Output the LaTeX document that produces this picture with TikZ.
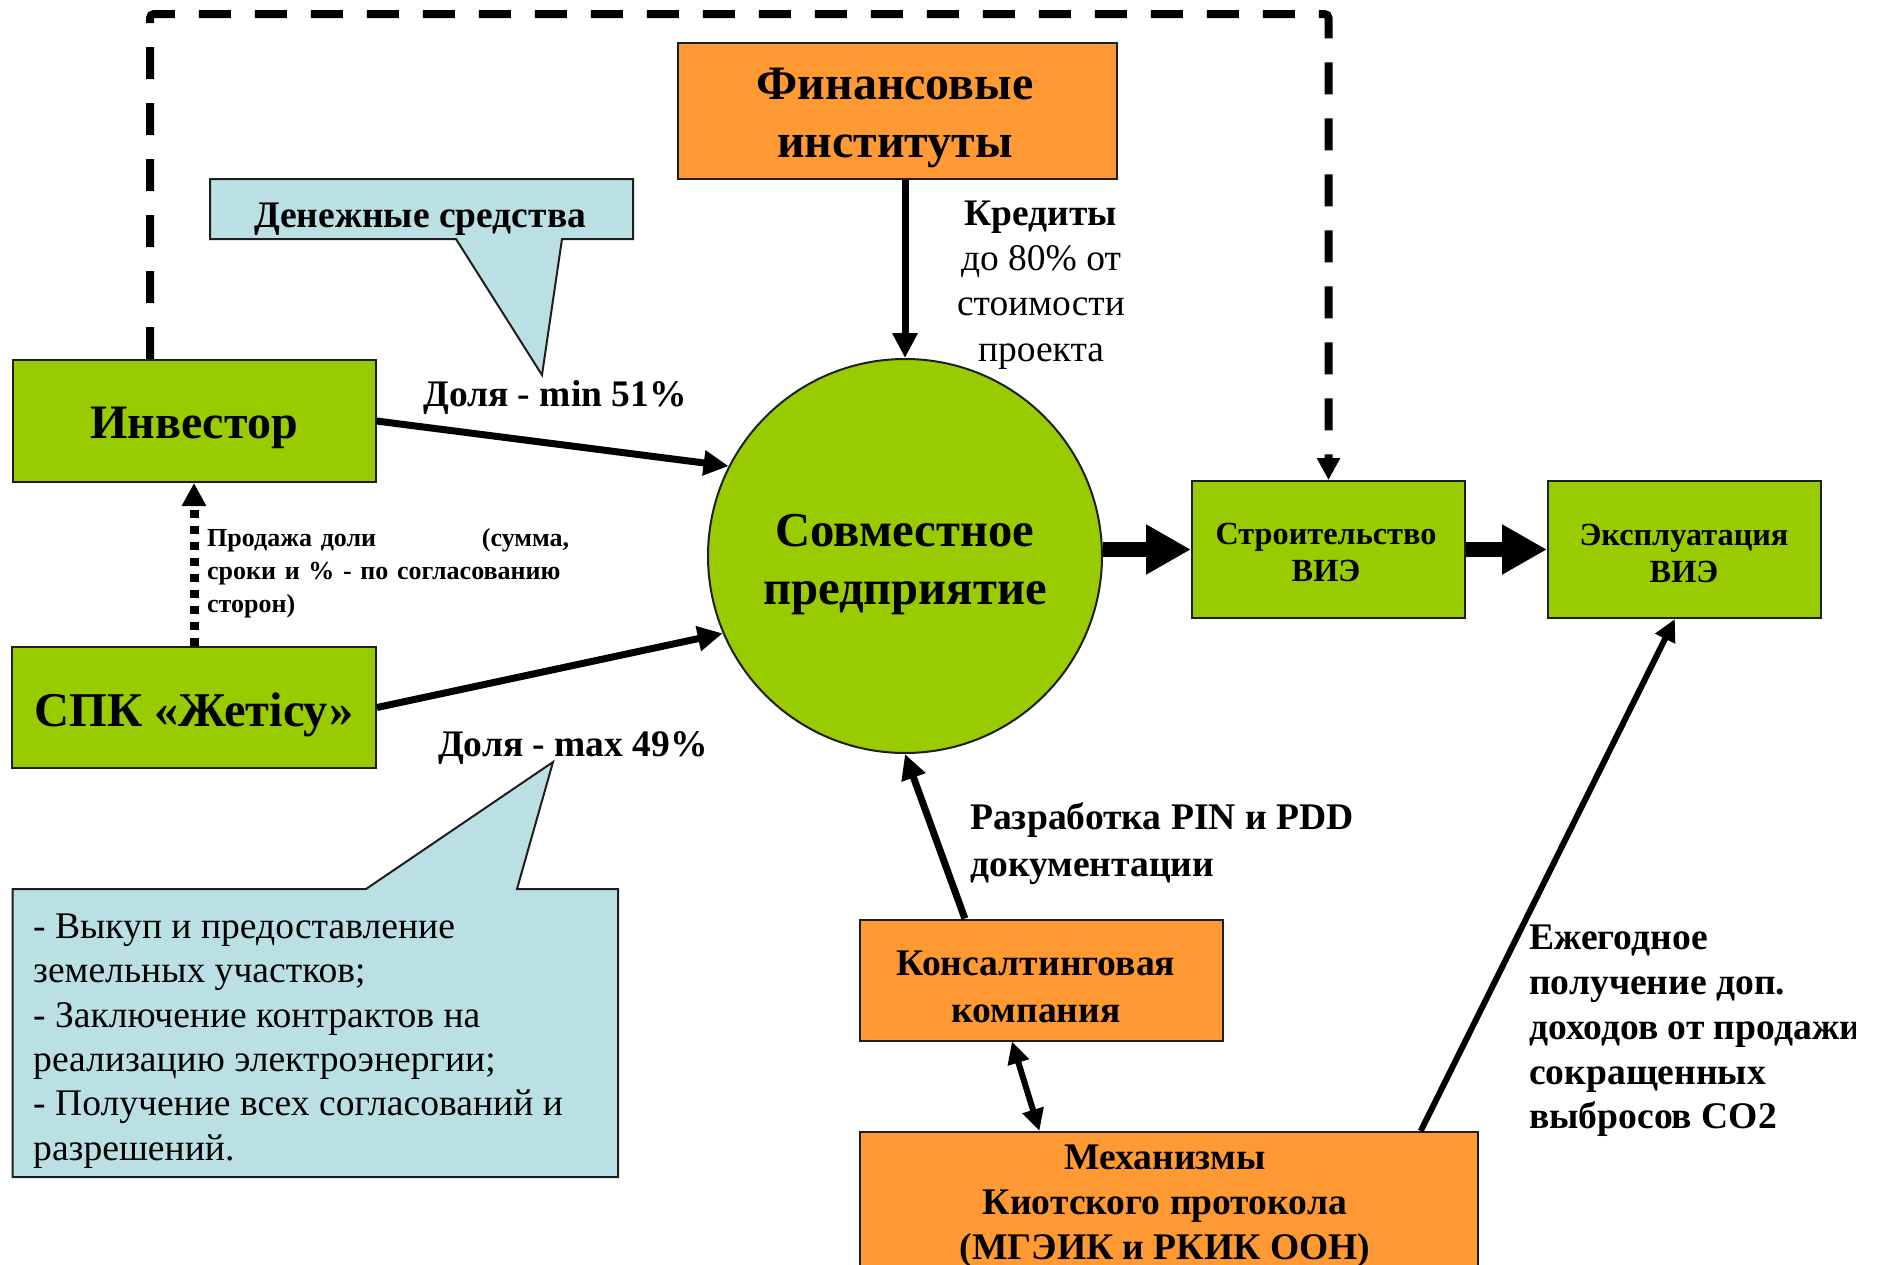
\documentclass[tikz,border=0pt]{standalone}
\usepackage{fontspec}
\setmainfont{Liberation Serif}
\usetikzlibrary{arrows.meta,calc}
\definecolor{vgreen}{RGB}{153,204,0}
\definecolor{vorange}{RGB}{255,153,51}
\definecolor{vblue}{RGB}{187,224,227}
\definecolor{vedge}{RGB}{30,30,30}
\tikzset{
  gbox/.style={draw=vedge, line width=2pt, fill=vgreen, inner sep=0pt},
  obox/.style={draw=vedge, line width=2pt, fill=vorange, inner sep=0pt},
  callout/.style={draw=vedge, line width=2pt, fill=vblue},
  arr/.style={line width=7pt, -{Triangle[length=25pt,width=24pt]}},
  thinarr/.style={line width=6pt, -{Triangle[length=22pt,width=21pt]}},
  bigarr/.style={line width=15pt, -{Triangle[length=45pt,width=47pt]}},
  dasharr/.style={line width=8pt, dash pattern=on 32pt off 24pt, rounded corners=4pt, -{Triangle[length=22pt,width=22pt]}},
  dotarr/.style={line width=9pt, dash pattern=on 8pt off 8pt, -{Triangle[length=23pt,width=23pt]}},
  lbl/.style={inner sep=0pt, align=center},
  lblleft/.style={inner sep=0pt, align=left, anchor=west},
}
\newcommand{\fsz}[2]{\fontsize{#1}{#2}\selectfont}
\begin{document}
\begin{tikzpicture}[x=1pt,y=-1pt]
\useasboundingbox (0,0) rectangle (1879,1264);
\fill[white] (0,0) rectangle (1879,1264);

% callouts
\draw[callout] (210,179) -- (633,179) -- (633,239) -- (562,239) -- (542,375) -- (456,239) -- (210,239) -- cycle;
\node[lbl, font=\fsz{37.5}{44}\bfseries] (cash) at (420,219) {Денежные средства};

\draw[callout] (12.5,889) -- (366,889) -- (553,762) -- (517,889) -- (618,889) -- (618,1177) -- (12.5,1177) -- cycle;
\node[lblleft, font=\fsz{37.6}{44.4}] (tasks) at (33,1041)
 {- Выкуп и предоставление\\земельных участков;\\- Заключение контрактов на\\реализацию электроэнергии;\\- Получение всех согласований и\\разрешений.};

% boxes
\node[gbox, minimum width=363pt, minimum height=122pt] (inv) at (194,421) {};
\node[gbox, minimum width=364pt, minimum height=121pt] (spk) at (194,707.5) {};
\node[obox, minimum width=439pt, minimum height=136pt] (fin) at (897.5,111) {};
\node[circle, draw=vedge, line width=2pt, fill=vgreen, minimum size=394pt, inner sep=0pt] (jv) at (905,556) {};
\node[gbox, minimum width=273pt, minimum height=137pt] (str) at (1328.5,549.5) {};
\node[gbox, minimum width=273pt, minimum height=137pt] (expl) at (1684.5,549.5) {};
\node[obox, minimum width=363pt, minimum height=121pt] (cons) at (1041.5,980) {};
\node[obox, minimum width=618pt, minimum height=180pt, anchor=north] (kyoto) at (1169,1131) {};

% box texts
\node[lbl, font=\fsz{48}{56}\bfseries] (invtext) at (194,428) {Инвестор};
\node[lbl, font=\fsz{48.5}{56}\bfseries] (spktext) at (194,714.5) {СПК «Жетісу»};
\node[lbl, font=\fsz{48}{57.5}\bfseries] (fintext) at (895,118) {Финансовые\\институты};
\node[lbl, font=\fsz{48.7}{57.5}\bfseries] (jvtext) at (905,564.5) {Совместное\\предприятие};
\node[lbl, font=\fsz{32.3}{37}\bfseries] (strtext) at (1326,552) {Строительство\\ВИЭ};
\node[lbl, font=\fsz{32.3}{37}\bfseries] (expltext) at (1684,553) {Эксплуатация\\ВИЭ};
\node[lbl, font=\fsz{37.6}{47}\bfseries] (constext) at (1036,987) {Консалтинговая\\компания};
\node[lbl, font=\fsz{37.6}{45}\bfseries] (kyototext) at (1165,1206) {Механизмы\\Киотского протокола\\(МГЭИК и РКИК ООН)};

% labels
\node[lbl, font=\fsz{37.5}{44}\bfseries] (l51) at (555,397) {Доля - min 51\%};
\node[lbl, font=\fsz{37.5}{44}\bfseries] (l49) at (573,748) {Доля - max 49\%};
\node[lbl, font=\fsz{37.5}{45.3}] (cred) at (1041,285) {\textbf{Кредиты}\\до 80\% от\\стоимости\\проекта};
\node[lblleft, text width=362pt, font=\fsz{26}{33}\bfseries] (sale) at (207,573)
 {Продажа доли\hfill(сумма,\\сроки и \% - по согласованию\\сторон)};
\node[lblleft, font=\fsz{37.6}{47}\bfseries] (pin) at (970,844) {Разработка PIN и PDD\\документации};
\begin{scope}
\clip (0,0) rectangle (1855,1264);
\node[lblleft, font=\fsz{37.6}{44.8}\bfseries] (co2) at (1529,1031)
 {Ежегодное\\получение доп.\\доходов от продажи\\сокращенных\\выбросов СО2};
\end{scope}

% coordinates
\coordinate (dtl) at (150,14);

% connectors
\draw[dasharr] (inv.north -| dtl) -- (dtl) -| (str.north);
\draw[dotarr] (spk.north) -- (inv.south);
\draw[arr] (inv.east) -- (jv.153);
\draw[arr] (spk.east) -- (jv.203);
\draw[arr] (jv.north |- fin.south) -- (jv.north);
\draw[bigarr] (str.west -| jv.east) -- (str.west);
\draw[bigarr] (str.east) -- (expl.west);
\draw[arr] ($(cons.north west)!0.29!(cons.north east)$) -- (jv.south);
\draw[thinarr, {Triangle[length=22pt,width=21pt]}-{Triangle[length=22pt,width=21pt]}] ($(cons.south west)!0.419!(cons.south east)$) -- ($(kyoto.north west)!0.291!(kyoto.north east)$);
\draw[thinarr] ($(kyoto.north west)!0.906!(kyoto.north east)$) -- ($(expl.south west)!0.465!(expl.south east)$);
\end{tikzpicture}
\end{document}
